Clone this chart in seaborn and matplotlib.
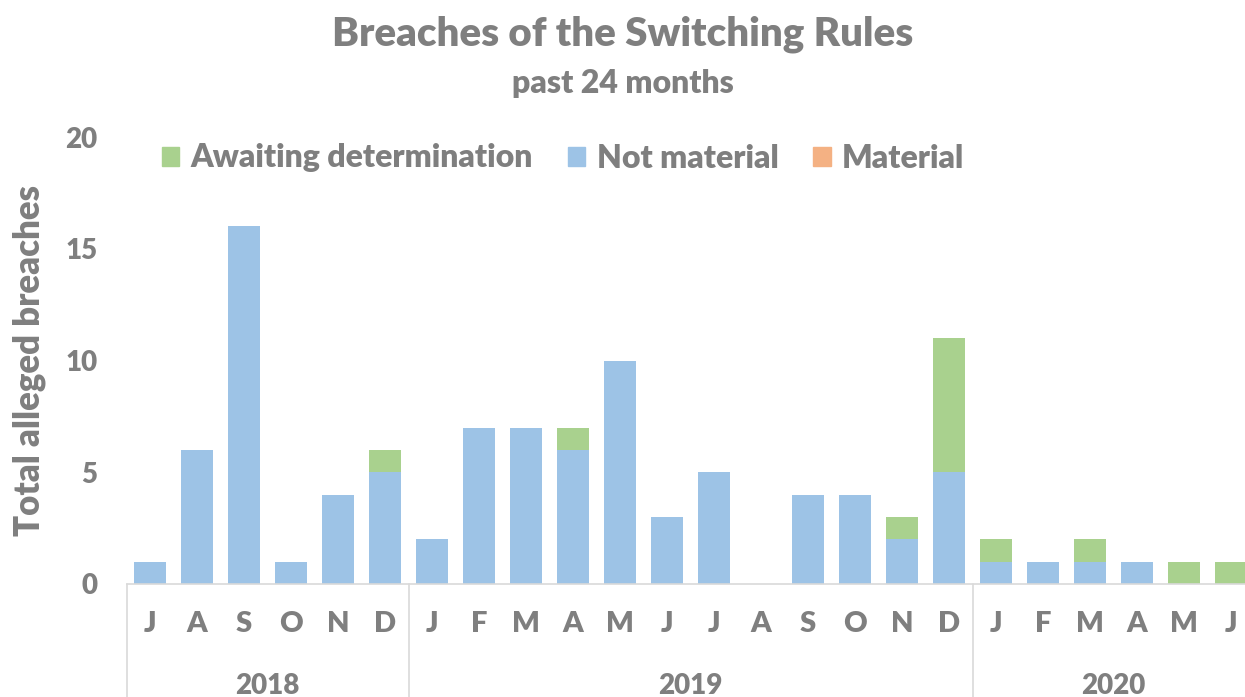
import pandas as pd
import numpy as np
import matplotlib
matplotlib.use('Agg')
import matplotlib.pyplot as plt
import seaborn as sns
from matplotlib.patches import Patch

# data: Jul 2018 - Jun 2020
months = ['J', 'A', 'S', 'O', 'N', 'D',
          'J', 'F', 'M', 'A', 'M', 'J', 'J', 'A', 'S', 'O', 'N', 'D',
          'J', 'F', 'M', 'A', 'M', 'J']
years = ['2018', '2019', '2020']
months_per_year = [6, 12, 6]
not_material = [1, 6, 16, 1, 4, 5,
                2, 7, 7, 6, 10, 3, 5, 0, 4, 4, 2, 5,
                1, 1, 1, 1, 0, 0]
awaiting = [0, 0, 0, 0, 0, 1,
            0, 0, 0, 1, 0, 0, 0, 0, 0, 0, 1, 6,
            1, 0, 1, 0, 1, 1]
material = [0] * 24

c_green = '#a9d18e'
c_blue = '#9dc3e6'
c_orange = '#f4b183'
grey = '#7f7f7f'
wt = 'heavy'

df = pd.DataFrame({'idx': range(len(months)), 'month': months,
                   'NotMaterial': not_material, 'Awaiting': awaiting,
                   'Material': material})
df['top_awaiting'] = df['NotMaterial'] + df['Awaiting']
df['top_material'] = df['top_awaiting'] + df['Material']

sns.set_theme(style='white')
plt.rcParams['font.family'] = ['Lato', 'DejaVu Sans']
plt.rcParams['font.weight'] = wt

fig = plt.figure(figsize=(12.45, 6.97), dpi=100)
slot = 47 / 1245
ax = fig.add_axes([126.5 / 1245, 1 - 584 / 697, slot * 24, (584 - 137) / 697])

kw = dict(x='idx', order=list(range(24)), width=0.68, ax=ax, saturation=1, linewidth=0)
sns.barplot(data=df, y='top_material', color=c_orange, **kw)
sns.barplot(data=df, y='top_awaiting', color=c_green, **kw)
sns.barplot(data=df, y='NotMaterial', color=c_blue, **kw)

ax.set_xlim(-0.5, 23.5)
ax.set_ylim(0, 20)
ax.set_yticks([0, 5, 10, 15, 20])
ax.tick_params(axis='y', labelsize=20, labelcolor=grey, length=0, pad=21)
for lbl in ax.get_yticklabels():
    lbl.set_fontweight(wt)
ax.set_xticks([])
ax.set_xlabel('')
ax.set_ylabel('Total alleged breaches', fontsize=25, color=grey,
              fontweight=wt, labelpad=14)
for s in ['top', 'right', 'left']:
    ax.spines[s].set_visible(False)
ax.spines['bottom'].set_color('#d9d9d9')
ax.spines['bottom'].set_linewidth(1.2)

# multi-level category axis
trans = ax.get_xaxis_transform()
for i, m in enumerate(months):
    ax.text(i, -0.0895, m, transform=trans, ha='center', va='center',
            fontsize=21, color=grey, fontweight=wt)
start = 0
bounds = [-0.5]
for y, n in zip(years, months_per_year):
    ax.text(start + n / 2 - 0.5, -0.228, y, transform=trans, ha='center',
            va='center', fontsize=20, color=grey, fontweight=wt)
    start += n
    bounds.append(start - 0.5)
for b in bounds:
    ax.plot([b, b], [0, -0.26], transform=trans, color='#d9d9d9',
            lw=1.2, clip_on=False)

fig.text(0.5, 1 - 34 / 697, 'Breaches of the Switching Rules', ha='center',
         va='center', fontsize=29, color=grey, fontweight=wt)
fig.text(0.5, 1 - 83 / 697, 'past 24 months', ha='center', va='center',
         fontsize=23, color=grey, fontweight=wt)

handles = [Patch(color=c_green, label='Awaiting determination'),
           Patch(color=c_blue, label='Not material'),
           Patch(color=c_orange, label='Material')]
fig.legend(handles=handles, loc='center', bbox_to_anchor=(563 / 1245, 1 - 158 / 697),
           ncol=3, frameon=False, fontsize=23, labelcolor=grey,
           prop={'weight': wt, 'size': 23},
           handlelength=0.55, handleheight=0.55, handletextpad=0.35,
           columnspacing=1.1)

fig.savefig('out.png', dpi=100)
